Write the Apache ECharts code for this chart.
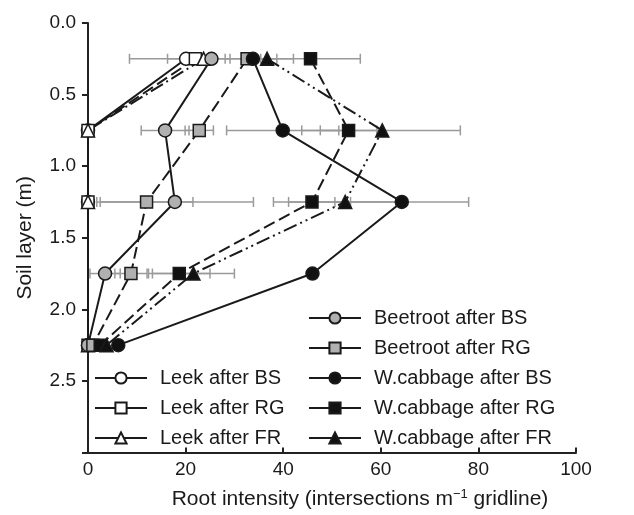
<!DOCTYPE html>
<html>
<head>
<meta charset="utf-8">
<script src="https://cdn.jsdelivr.net/npm/echarts@6/dist/echarts.min.js"></script>
<style>
html, body { margin: 0; padding: 0; background: #fff; }
#container { width: 634px; height: 515px; }
</style>
</head>
<body>
<div id="container"></div>
<script>
var dom = document.getElementById('container');
var myChart = echarts.init(dom, null, { renderer: 'canvas' });

// soil layers (m) and root intensity per series (null = no point drawn)
var layers = [0.25, 0.75, 1.25, 1.75, 2.25];
var leekBS = [20.1, 0, 0, null, 0];
var leekRG = [22.0, 0, 0, null, 0];
var leekFR = [23.7, 0, 0, null, 0];
var beetBS = [25.3, 15.8, 17.8, 3.5, 0];
var beetRG = [32.6, 22.8, 12.0, 8.8, 1.0];
var cabBS = [33.8, 39.9, 64.3, 46.0, 6.2];
var cabRG = [45.6, 53.4, 45.9, 18.7, 2.5];
var cabFR = [36.7, 60.3, 52.7, 21.6, 3.8];

// error bars: layer, low, high
var errLayer = [0.25, 0.25, 0.25, 0.25, 0.75, 0.75, 0.75, 0.75, 0.75, 1.25, 1.25, 1.25, 1.25, 1.25, 1.75, 1.75, 1.75, 1.75];
var errLow = [8.5, 16.3, 28.1, 35.4, 10.9, 19.9, 28.4, 47.6, 43.8, 2.5, 1.8, 38.0, 41.1, 50.6, 0.4, 5.5, 12.4, 13.2];
var errHigh = [38.7, 29.1, 42.1, 55.8, 20.7, 25.7, 51.4, 59.2, 76.3, 21.5, 33.9, 53.8, 64.3, 78.0, 6.6, 12.1, 25.0, 30.0];

var yTicks = ['0.0', '0.5', '1.0', '1.5', '2.0', '2.5'];

var font = 'Liberation Sans';
var dashed = [12, 5];
var dashDot = [14, 4, 2, 4];
var dashDotDot = [14, 4, 2, 4, 2, 4];

function pts(vals) {
  return layers.map(function (l, i) {
    return vals[i] === null ? ['-', l] : [vals[i], l];
  });
}

function lineSeries(name, vals, symbol, size, fill, lineType) {
  return {
    name: name,
    type: 'line',
    data: pts(vals),
    connectNulls: true,
    symbol: symbol,
    symbolSize: size,
    showAllSymbol: true,
    itemStyle: { color: fill, borderColor: '#1a1a1a', borderWidth: 1.5, opacity: 1 },
    lineStyle: { color: '#1a1a1a', width: 2, type: lineType },
    emphasis: { disabled: true },
    z: 3
  };
}

var errData = errLayer.map(function (l, i) { return [l, errLow[i], errHigh[i]]; });

var legendText = { fontFamily: font, fontSize: 20, color: '#1a1a1a', padding: [0, 0, 0, 8] };

var option = {
  animation: false,
  backgroundColor: '#fff',
  grid: { left: 88, right: 58, top: 23, bottom: 62 },
  xAxis: {
    type: 'value',
    position: 'bottom',
    min: 0,
    max: 100,
    interval: 20,
    name: '{n|Root intensity (intersections m}{s|\u22121}{n| gridline)}',
    nameLocation: 'middle',
    nameGap: 35,
    nameTextStyle: {
      padding: [0, 0, 0, 56],
      rich: {
        n: { fontFamily: font, fontSize: 21, color: '#1a1a1a', lineHeight: 24 },
        s: { fontFamily: font, fontSize: 13, color: '#1a1a1a', lineHeight: 13, verticalAlign: 'top' }
      }
    },
    axisLine: { onZero: false, lineStyle: { color: '#222', width: 2 } },
    axisTick: { inside: true, length: 5, lineStyle: { color: '#222', width: 2 } },
    axisLabel: { fontFamily: font, fontSize: 19, color: '#1a1a1a', margin: 8 },
    splitLine: { show: false }
  },
  yAxis: {
    type: 'value',
    inverse: true,
    min: 0,
    max: 3,
    interval: 0.5,
    name: 'Soil layer (m)',
    nameLocation: 'middle',
    nameGap: 52,
    nameTextStyle: { fontFamily: font, fontSize: 21, color: '#1a1a1a' },
    axisLine: { onZero: false, lineStyle: { color: '#222', width: 2 } },
    axisTick: { length: 6, lineStyle: { color: '#222', width: 2 } },
    axisLabel: {
      fontFamily: font, fontSize: 19, color: '#1a1a1a', margin: 12,
      formatter: function (v) {
        var k = Math.round(v / 0.5);
        return k < yTicks.length ? yTicks[k] : '';
      }
    },
    splitLine: { show: false }
  },
  legend: [
    {
      data: ['Leek after BS', 'Leek after RG', 'Leek after FR'],
      orient: 'vertical',
      left: 89,
      top: 363,
      itemWidth: 52,
      itemHeight: 14,
      itemGap: 10,
      lineStyle: { type: 'solid', width: 2 },
      textStyle: legendText
    },
    {
      data: ['Beetroot after BS', 'Beetroot after RG', 'W.cabbage after BS', 'W.cabbage after RG', 'W.cabbage after FR'],
      orient: 'vertical',
      left: 303,
      top: 303,
      itemWidth: 52,
      itemHeight: 14,
      itemGap: 10,
      lineStyle: { type: 'solid', width: 2 },
      textStyle: legendText
    }
  ],
  series: [
    {
      type: 'custom',
      data: errData,
      encode: { x: [1, 2], y: 0 },
      z: 1,
      silent: true,
      renderItem: function (params, api) {
        var p1 = api.coord([api.value(1), api.value(0)]);
        var p2 = api.coord([api.value(2), api.value(0)]);
        var h = 5;
        var st = { stroke: '#9a9a9a', lineWidth: 1.5 };
        return {
          type: 'group',
          children: [
            { type: 'line', shape: { x1: p1[0], y1: p1[1], x2: p2[0], y2: p2[1] }, style: st },
            { type: 'line', shape: { x1: p1[0], y1: p1[1] - h, x2: p1[0], y2: p1[1] + h }, style: st },
            { type: 'line', shape: { x1: p2[0], y1: p2[1] - h, x2: p2[0], y2: p2[1] + h }, style: st }
          ]
        };
      }
    },
    lineSeries('Leek after BS', leekBS, 'circle', 13, '#ffffff', 'solid'),
    lineSeries('Leek after RG', leekRG, 'rect', 12, '#ffffff', dashed),
    lineSeries('Leek after FR', leekFR, 'triangle', 13, '#ffffff', dashDot),
    lineSeries('Beetroot after BS', beetBS, 'circle', 13, '#b0b0b0', 'solid'),
    lineSeries('Beetroot after RG', beetRG, 'rect', 12, '#b0b0b0', dashed),
    lineSeries('W.cabbage after BS', cabBS, 'circle', 13, '#111111', 'solid'),
    lineSeries('W.cabbage after RG', cabRG, 'rect', 12, '#111111', dashed),
    lineSeries('W.cabbage after FR', cabFR, 'triangle', 13, '#111111', dashDotDot)
  ]
};

myChart.setOption(option);
window.addEventListener('resize', myChart.resize);
</script>
</body>
</html>
